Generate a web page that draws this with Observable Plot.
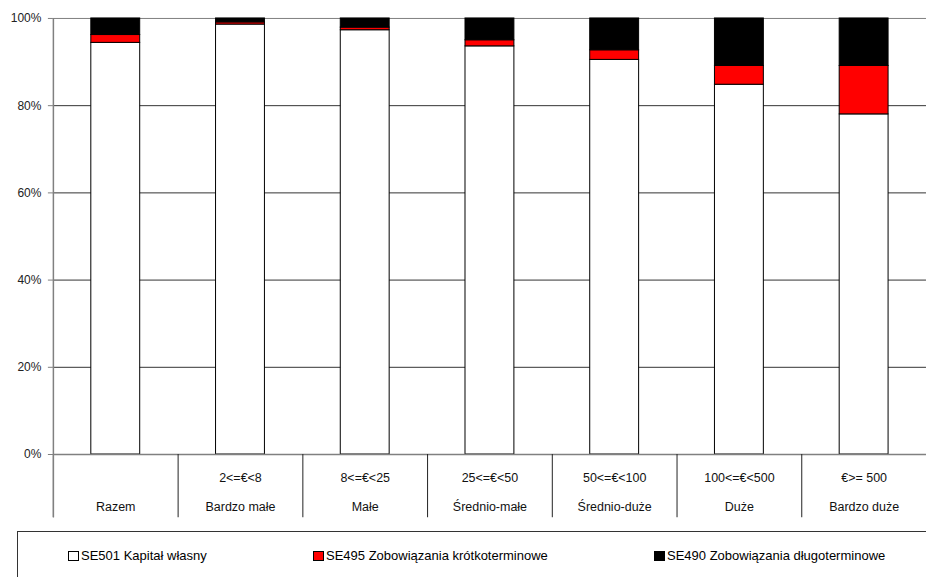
<!DOCTYPE html>
<html>
<head>
<meta charset="utf-8">
<script src="https://cdn.jsdelivr.net/npm/d3@7"></script>
<script src="https://cdn.jsdelivr.net/npm/@observablehq/plot@0.6"></script>
<style>
  html, body { margin: 0; padding: 0; background: #fff; overflow: hidden; }
  body { width: 926px; height: 577px; position: relative; font-family: "Liberation Sans", Arial, sans-serif; }
  #chart { position: absolute; left: 0; top: 0; }
  #legend { position: absolute; left: 17px; top: 531px; width: 940px; height: 60px; border: 1px solid #333; box-sizing: border-box; }
  .item { position: absolute; top: 16px; display: flex; align-items: center; font-size: 13px; color: #000; white-space: nowrap; }
  .sw { width: 11px; height: 10px; border: 1px solid #000; box-sizing: border-box; margin-right: 2px; }
</style>
</head>
<body>
<div id="chart"></div>
<div id="legend"></div>
<script>
const categories = ["Razem", "Bardzo małe", "Małe", "Średnio-małe", "Średnio-duże", "Duże", "Bardzo duże"];
const classLabels = ["", "2<=€<8", "8<=€<25", "25<=€<50", "50<=€<100", "100<=€<500", "€>= 500"];
const series = ["SE501 Kapitał własny", "SE495 Zobowiązania krótkoterminowe", "SE490 Zobowiązania długoterminowe"];
const se501 = [94.4, 98.6, 97.3, 93.6, 90.5, 84.8, 78.0];
const se495 = [1.8, 0.5, 0.6, 1.4, 2.2, 4.3, 11.1];
const se490 = [3.8, 0.9, 2.1, 5.0, 7.3, 10.9, 10.9];
const seriesColors = ["#ffffff", "#ff0000", "#000000"];
const yTicks = [0, 20, 40, 60, 80, 100];

const values = [se501, se495, se490];
const rows = [];
series.forEach((s, si) => categories.forEach((c, ci) => rows.push({category: c, series: s, value: values[si][ci]})));
const cats = categories.map((c, i) => ({category: c, cls: classLabels[i]}));

const W = 928, marginLeft = 53, marginRight = 0;
const step = (W - marginLeft - marginRight) / categories.length;
const below = -14.5; // extent of divider lines below the axis, in y units

const plot = Plot.plot({
  width: W,
  height: 525,
  marginLeft, marginRight,
  marginTop: 18,
  marginBottom: 70,
  style: {fontFamily: "Liberation Sans, Arial, sans-serif", fontSize: "12px", color: "#000", background: "#fff", overflow: "visible"},
  x: {domain: categories, paddingInner: 0.608, paddingOuter: 0.304, axis: null},
  y: {domain: [0, 100], axis: null},
  color: {domain: series, range: seriesColors},
  marks: [
    Plot.ruleY(yTicks.filter(d => d > 0 && d < 100), {stroke: "#333", strokeWidth: 1}),
    Plot.ruleY([100], {stroke: "#808080", strokeWidth: 1}),
    Plot.axisY({ticks: yTicks, tickFormat: d => d + "%", tickSize: 5, tickPadding: 7, stroke: "#808080", fill: "#222", fontSize: 12, label: null}),
    Plot.barY(rows, {x: "category", y: "value", fill: "series", order: series, stroke: "#000", strokeWidth: 1}),
    Plot.ruleY([0], {stroke: "#808080", strokeWidth: 1.5}),
    Plot.ruleX(cats, {x: "category", dx: -step / 2, y1: below, y2: 0, stroke: "#222", strokeWidth: 1}),
    Plot.ruleX([cats[0]], {x: "category", dx: -step / 2, y1: below, y2: 100, stroke: "#808080", strokeWidth: 1.5}),
    Plot.text(cats, {x: "category", y: 0, dy: 24, text: "cls", fill: "#111", fontSize: 12.5}),
    Plot.text(cats, {x: "category", y: 0, dy: 53, text: "category", fill: "#111", fontSize: 12.5})
  ]
});
document.getElementById("chart").appendChild(plot);

const legend = document.getElementById("legend");
const lefts = [50, 295, 636];
series.forEach((s, i) => {
  const it = document.createElement("div");
  it.className = "item";
  it.style.left = lefts[i] + "px";
  const sw = document.createElement("span");
  sw.className = "sw";
  sw.style.background = seriesColors[i];
  it.appendChild(sw);
  it.appendChild(document.createTextNode(s));
  legend.appendChild(it);
});
</script>
</body>
</html>
